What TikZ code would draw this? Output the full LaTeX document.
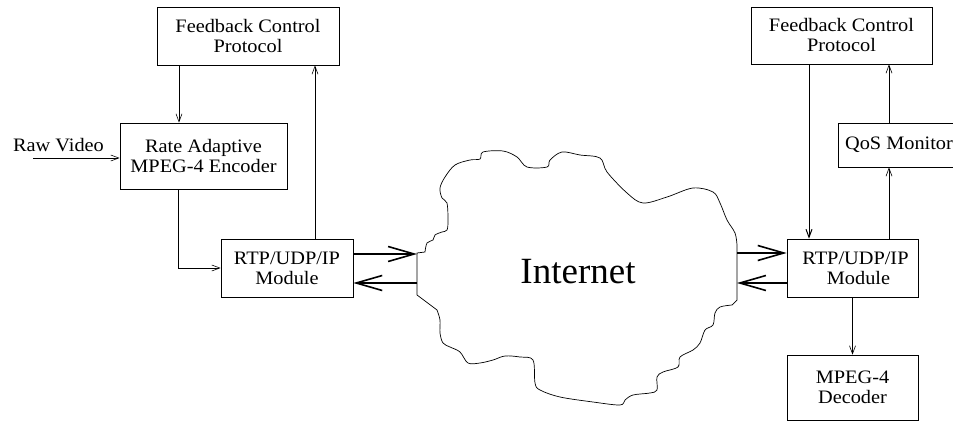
\documentclass[tikz,border=0pt]{standalone}
\usepackage{fontspec}
\setmainfont{Liberation Serif}
\newfontfamily\widefont[FakeStretch=1.07]{Liberation Serif}
\usetikzlibrary{arrows.meta}
\begin{document}
\begin{tikzpicture}[x=1pt,y=-1pt,
  box/.style={draw,line width=0.7pt,align=center,inner sep=0pt,font=\widefont\fontsize{19}{20}\selectfont},
  arr/.style={line width=0.6pt,-{Straight Barb[length=8pt,width=6pt]}},
  fat/.style={line width=2pt,-{Straight Barb[length=26pt,width=15pt,line width=1.6pt]}},
  cloud/.style={line width=0.7pt}]
\useasboundingbox (0,0) rectangle (953,422);
% nodes
\node[box,minimum width=182pt,minimum height=58pt] (fcpl) at (248,36) {Feedback Control\\Protocol};
\node[box,minimum width=167pt,minimum height=66pt] (enc) at (203.5,156) {Rate Adaptive\\MPEG-4 Encoder};
\node[box,minimum width=132pt,minimum height=58pt] (rtpl) at (287,268) {RTP/UDP/IP\\Module};
\node[box,minimum width=181pt,minimum height=57pt] (fcpr) at (841.5,35.5) {Feedback Control\\Protocol};
\node[box,minimum width=122pt,minimum height=44pt] (qos) at (899,145) {QoS Monitor};
\node[box,minimum width=131pt,minimum height=58pt] (rtpr) at (852.5,268) {\hspace*{6pt}RTP/UDP/IP\\\hspace*{12pt}Module};
\node[box,minimum width=131pt,minimum height=65pt] (dec) at (852.5,387.5) {MPEG-4\\Decoder};
\node[font=\widefont\fontsize{19}{20}\selectfont,inner sep=0pt] (raw) at (58.5,145) {Raw Video};
\coordinate (rawin) at (33,158);
% cloud
\draw[cloud] (417,295) -- (417,253) -- plot[smooth,tension=0.55] coordinates {(425,252) (427,243) (433,240) (435,235) (442,232) (447,230) (448,220) (447,203) (442,198) (440,188) (445,177) (455,165) (470,160) (480,159) (483,152) (503,151) (517,157) (527,167) (547,167) (550,160) (562,152) (580,155) (600,158) (607,172) (627,193) (643,203) (667,197) (693,188) (713,192) (720,203) (727,220) (735,233) (737,245)}
 -- (737,300) -- plot[smooth,tension=0.55] coordinates {(732,305) (720,307) (715,313) (713,325) (705,330) (700,343) (693,350) (680,357) (678,367) (663,372) (657,377) (657,390) (650,393) (633,395) (625,400) (620,405) (593,402) (560,397) (540,390) (535,383) (533,360) (520,357) (505,356) (493,360) (480,363) (468,363) (460,352) (450,347) (443,343) (440,333) (440,320) (437,310)} -- cycle;
\node[font=\fontsize{37}{40}\selectfont,inner sep=0pt] (net) at (578,272) {Internet};
\coordinate (cl1) at (417,254);
\coordinate (cl2) at (417,283);
\coordinate (cr1) at (737,253);
\coordinate (cr2) at (737,283);
% connectors left
\draw[arr] (rawin) -- (rawin -| enc.west);
\draw[arr] ([xshift=-69pt]fcpl.south) -- ([xshift=-69pt]fcpl.south |- enc.north);
\draw[arr] ([xshift=-25.5pt]enc.south) |- (rtpl.west);
\draw[arr] ([xshift=28pt]rtpl.north) -- ([xshift=28pt]rtpl.north |- fcpl.south);
\draw[fat] (cl1 -| rtpl.east) -- (cl1);
\draw[fat] (cl2) -- (cl2 -| rtpl.east);
% connectors right
\draw[fat] (cr1) -- (cr1 -| rtpr.west);
\draw[fat] (cr2 -| rtpr.west) -- (cr2);
\draw[arr,line width=1pt] ([xshift=-32.5pt]fcpr.south) -- ([xshift=-32.5pt]fcpr.south |- rtpr.north);
\draw[arr] ([xshift=36.5pt]rtpr.north) -- ([xshift=36.5pt]rtpr.north |- qos.south);
\draw[arr] ([xshift=-10pt]qos.north) -- ([xshift=-10pt]qos.north |- fcpr.south);
\draw[arr] (rtpr.south) -- (dec.north);
\end{tikzpicture}
\end{document}
